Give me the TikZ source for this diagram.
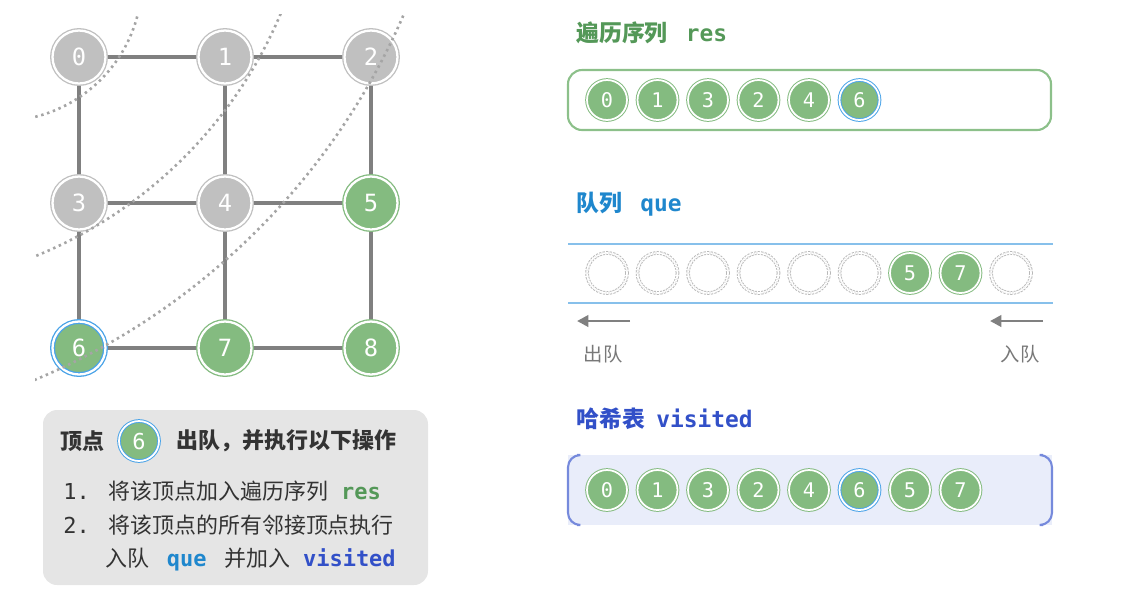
\documentclass[tikz,border=0pt]{standalone}
\usepackage{fontspec}
\setmainfont{Noto Sans CJK SC}
\setmonofont{DejaVu Sans Mono}
\usepackage{xcolor}
\usetikzlibrary{arrows.meta, backgrounds}
\definecolor{nodegreen}{RGB}{132,187,128}
\definecolor{nodegray}{RGB}{192,192,192}
\definecolor{edgegray}{RGB}{128,128,128}
\definecolor{dotgray}{RGB}{165,165,165}
\definecolor{ringblue}{RGB}{74,163,232}
\definecolor{resgreen}{RGB}{84,152,88}
\definecolor{reslight}{RGB}{140,192,138}
\definecolor{quelight}{RGB}{135,192,235}
\definecolor{queblue}{RGB}{31,135,205}
\definecolor{visblue}{RGB}{50,80,200}
\definecolor{visfill}{RGB}{233,237,250}
\definecolor{visborder}{RGB}{118,138,220}
\definecolor{boxgray}{RGB}{229,229,229}
\definecolor{textdark}{RGB}{51,51,51}
\definecolor{slotgray}{RGB}{185,185,185}
\definecolor{labelgray}{RGB}{120,120,120}

\begin{document}
\begin{tikzpicture}[x=0.02cm, y=-0.02cm,
  vtx/.style={circle, minimum size=1.06cm, inner sep=0pt, line width=0.75pt,
    double distance=1.3pt, text=white, font=\ttfamily\fontsize{13.5}{13.5}\selectfont},
  vgray/.style={vtx, fill=nodegray, draw=nodegray, double=white},
  vgreen/.style={vtx, fill=nodegreen, draw=nodegreen, double=white},
  vcur/.style={vtx, fill=nodegreen, draw=ringblue, double=white},
  item/.style={circle, minimum size=0.8cm, inner sep=0pt, line width=0.55pt,
    double distance=1pt, text=white, font=\ttfamily\fontsize{11.5}{11.5}\selectfont},
  itemg/.style={item, fill=nodegreen, draw=nodegreen, double=white},
  itemc/.style={item, fill=nodegreen, draw=ringblue, double=white},
  slot/.style={item, draw=slotgray, double=white, dash pattern=on 1.2pt off 0.7pt},
  link/.style={draw=edgegray, line width=1.8pt},
  layer/.style={dotgray, line width=1.5pt, dash pattern=on 1.4pt off 2.1pt},
  arr/.style={-{Triangle[length=6.5pt, width=6.5pt]}, draw=edgegray, line width=1.6pt},
  title/.style={inner sep=0pt, anchor=west, font=\bfseries\fontsize{13}{15}\selectfont},
  txt/.style={inner sep=0pt, anchor=west, text=textdark, font=\fontsize{12.5}{15}\selectfont}]
  \useasboundingbox (0,0) rectangle (1122,593);

  % graph
  \node[vgray] (v0) at (79,57) {0};
  \node[vgray] (v1) at (225,57) {1};
  \node[vgray] (v2) at (371,57) {2};
  \node[vgray] (v3) at (79,203) {3};
  \node[vgray] (v4) at (225,203) {4};
  \node[vgreen] (v5) at (371,203) {5};
  \node[vcur] (v6) at (79,348) {6};
  \node[vgreen] (v7) at (225,348) {7};
  \node[vgreen] (v8) at (371,348) {8};
  \begin{scope}[on background layer]
    \draw[link] (v0) -- (v1) (v1) -- (v2) (v3) -- (v4) (v4) -- (v5)
      (v6) -- (v7) (v7) -- (v8);
    \draw[link] (v0) -- (v3) (v3) -- (v6) (v1) -- (v4) (v4) -- (v7)
      (v2) -- (v5) (v5) -- (v8);
  \end{scope}

  % distance layers
  \begin{scope}
    \clip (35,14) rectangle (410,382);
    \draw[layer] (1,-20) circle (141);
    \draw[layer] (-133.5,-160) circle (449);
    \draw[layer] (-233,-259.5) circle (693);
  \end{scope}

  % step box
  \fill[boxgray, rounded corners=8] (43,410) rectangle (428,585);
  \node[txt, font=\bfseries\fontsize{12.5}{15}\selectfont] (stepA) at (60,441) {顶点};
  \node[itemc, font=\ttfamily\fontsize{12.5}{12.5}\selectfont] (stepV) at (139,441) {6};
  \node[txt, font=\bfseries\fontsize{12.5}{15}\selectfont] (stepB) at (176,441) {出队，并执行以下操作};
  \node[txt, font=\ttfamily\fontsize{12.5}{15}\selectfont] (num1) at (63,491) {1.};
  \node[txt] (line1) at (108,491) {将该顶点加入遍历序列\hspace{0.6em}\textcolor{resgreen}{\ttfamily\bfseries res}};
  \node[txt, font=\ttfamily\fontsize{12.5}{15}\selectfont] (num2) at (63,525) {2.};
  \node[txt] (line2) at (108,525) {将该顶点的所有邻接顶点执行};
  \node[txt] (line3) at (105,560) {入队\hspace{0.8em}\textcolor{queblue}{\ttfamily\bfseries que}\hspace{0.8em}并加入\hspace{0.6em}\textcolor{visblue}{\ttfamily\bfseries visited}};

  % res
  \node[title, text=resgreen] (resT) at (576,33) {遍历序列\hspace{0.8em}{\ttfamily res}};
  \draw[reslight, line width=1.2pt, rounded corners=8] (568,70) rectangle (1051,130);
  \node[itemg] (r0) at (607,100) {0};
  \node[itemg] (r1) at (657.5,100) {1};
  \node[itemg] (r2) at (708,100) {3};
  \node[itemg] (r3) at (758.5,100) {2};
  \node[itemg] (r4) at (809,100) {4};
  \node[itemc] (r5) at (859.5,100) {6};

  % que
  \node[title, text=queblue] (queT) at (576,204) {队列\hspace{0.8em}{\ttfamily que}};
  \draw[quelight, line width=1pt] (568,244) -- (1053,244);
  \draw[quelight, line width=1pt] (568,303) -- (1053,303);
  \node[slot] (q0) at (607,273) {};
  \node[slot] (q1) at (657.5,273) {};
  \node[slot] (q2) at (708,273) {};
  \node[slot] (q3) at (758.5,273) {};
  \node[slot] (q4) at (809,273) {};
  \node[slot] (q5) at (859.5,273) {};
  \node[itemg] (q6) at (910,273) {5};
  \node[itemg] (q7) at (960.5,273) {7};
  \node[slot] (q8) at (1011,273) {};
  \coordinate (outS) at (630,321);
  \coordinate (outE) at (577,321);
  \coordinate (inS) at (1043,321);
  \coordinate (inE) at (990,321);
  \draw[arr] (outS) -- (outE);
  \draw[arr] (inS) -- (inE);
  \node[text=labelgray, font=\fontsize{11}{13}\selectfont] (outL) at (603,354) {出队};
  \node[text=labelgray, font=\fontsize{11}{13}\selectfont] (inL) at (1020,354) {入队};

  % visited
  \node[title, text=visblue] (visT) at (576,419) {哈希表\hspace{0.5em}{\ttfamily visited}};
  \fill[visfill] (568,455) rectangle (1052,525);
  \draw[visborder, line width=1.2pt, rounded corners=7] (577,455) -- (568,455) -- (568,525) -- (577,525);
  \draw[visborder, line width=1.2pt, rounded corners=7] (1043,455) -- (1052,455) -- (1052,525) -- (1043,525);
  \node[itemg] (s0) at (607,490) {0};
  \node[itemg] (s1) at (657.5,490) {1};
  \node[itemg] (s2) at (708,490) {3};
  \node[itemg] (s3) at (758.5,490) {2};
  \node[itemg] (s4) at (809,490) {4};
  \node[itemc] (s5) at (859.5,490) {6};
  \node[itemg] (s6) at (910,490) {5};
  \node[itemg] (s7) at (960.5,490) {7};
\end{tikzpicture}
\end{document}
